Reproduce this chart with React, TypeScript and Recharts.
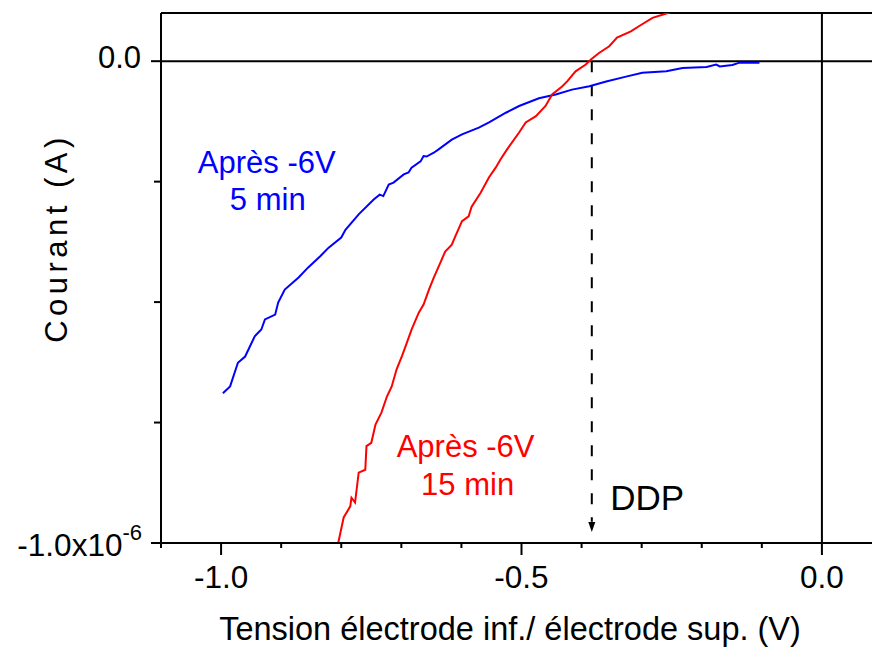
import React from 'react';
import { LineChart, Line, XAxis, YAxis, ReferenceLine, ReferenceDot } from 'recharts';

// Voltage (V) and current (A)
const blueV = [-0.997, -0.985, -0.972, -0.96, -0.944, -0.933, -0.927, -0.91, -0.905, -0.894, -0.871, -0.855, -0.835, -0.821, -0.8, -0.793, -0.771, -0.746, -0.736, -0.73, -0.721, -0.713, -0.696, -0.688, -0.683, -0.668, -0.663, -0.658, -0.646, -0.638, -0.616, -0.599, -0.571, -0.554, -0.526, -0.504, -0.471, -0.443, -0.416, -0.387, -0.359, -0.326, -0.299, -0.259, -0.232, -0.192, -0.176, -0.17, -0.149, -0.137, -0.104];
const blueI = [-0.689e-6, -0.675e-6, -0.626e-6, -0.613e-6, -0.571e-6, -0.557e-6, -0.536e-6, -0.526e-6, -0.501e-6, -0.474e-6, -0.449e-6, -0.428e-6, -0.405e-6, -0.387e-6, -0.366e-6, -0.35e-6, -0.318e-6, -0.287e-6, -0.277e-6, -0.28e-6, -0.256e-6, -0.252e-6, -0.235e-6, -0.231e-6, -0.221e-6, -0.208e-6, -0.197e-6, -0.198e-6, -0.19e-6, -0.183e-6, -0.163e-6, -0.152e-6, -0.138e-6, -0.127e-6, -0.107e-6, -0.093e-6, -0.077e-6, -0.069e-6, -0.059e-6, -0.052e-6, -0.042e-6, -0.032e-6, -0.024e-6, -0.021e-6, -0.014e-6, -0.012e-6, -0.007e-6, -0.011e-6, -0.008e-6, -0.003e-6, -0.003e-6];

const redV = [-0.81, -0.805, -0.796, -0.785, -0.783, -0.777, -0.771, -0.76, -0.758, -0.75, -0.743, -0.733, -0.724, -0.716, -0.708, -0.699, -0.693, -0.683, -0.671, -0.663, -0.654, -0.646, -0.635, -0.627, -0.616, -0.61, -0.599, -0.588, -0.583, -0.568, -0.554, -0.543, -0.535, -0.524, -0.504, -0.493, -0.476, -0.46, -0.449, -0.432, -0.424, -0.41, -0.393, -0.384, -0.371, -0.354, -0.341, -0.318, -0.304, -0.282, -0.259, -0.245];
const redI = [-1.026e-6, -1.0e-6, -0.947e-6, -0.924e-6, -0.906e-6, -0.916e-6, -0.854e-6, -0.848e-6, -0.799e-6, -0.792e-6, -0.754e-6, -0.729e-6, -0.696e-6, -0.675e-6, -0.64e-6, -0.612e-6, -0.592e-6, -0.557e-6, -0.522e-6, -0.505e-6, -0.474e-6, -0.449e-6, -0.418e-6, -0.395e-6, -0.381e-6, -0.363e-6, -0.332e-6, -0.322e-6, -0.302e-6, -0.273e-6, -0.241e-6, -0.221e-6, -0.204e-6, -0.183e-6, -0.148e-6, -0.127e-6, -0.114e-6, -0.093e-6, -0.069e-6, -0.052e-6, -0.042e-6, -0.021e-6, -0.007e-6, 0.004e-6, 0.017e-6, 0.031e-6, 0.049e-6, 0.062e-6, 0.073e-6, 0.09e-6, 0.099e-6, 0.105e-6];

const xTicks = [-1.1, -1.0, -0.9, -0.8, -0.7, -0.6, -0.5, -0.4, -0.3, -0.2, -0.1, 0.0, 0.1];
const xTickLabels: Record<string, string> = { '-1': '-1.0', '-0.5': '-0.5', '0': '0.0' };
const yTicks = [-1e-6, -0.75e-6, -0.5e-6, -0.25e-6, 0];
const ddpV = -0.383;

const blueData = blueV.map((v, k) => ({ v, i: blueI[k] }));
const redData = redV.map((v, k) => ({ v, i: redI[k] }));

const FONT = '"Liberation Sans", Arial, sans-serif';

const XTick = (props: any) => {
  const { x, y, payload } = props;
  const label = xTickLabels[String(payload.value)];
  const major = label !== undefined;
  return (
    <g>
      <line x1={x} y1={y} x2={x} y2={y + (major ? 12 : 5)} stroke="#000" strokeWidth={2} />
      {major && (
        <text x={x} y={y + 45} textAnchor="middle" fontSize={31.5} fontFamily={FONT} fill="#000">
          {label}
        </text>
      )}
    </g>
  );
};

const YTick = (props: any) => {
  const { x, y, payload } = props;
  const v = payload.value;
  const isZero = v === 0;
  const isMin = Math.abs(v + 1e-6) < 1e-12;
  const major = isZero || isMin;
  return (
    <g>
      <line x1={x - (major ? 10 : 7)} y1={y} x2={x} y2={y} stroke="#000" strokeWidth={2} />
      {isZero && (
        <text x={x - 20} y={y + 7} textAnchor="end" fontSize={31} fontFamily={FONT} fill="#000">
          0.0
        </text>
      )}
      {isMin && (
        <text x={x - 19} y={y + 13} textAnchor="end" fontSize={31.5} fontFamily={FONT} fill="#000">
          -1.0x10
          <tspan fontSize={22} dy={-16}>-6</tspan>
        </text>
      )}
    </g>
  );
};

export default function App() {
  return (
    <div style={{ position: 'absolute', left: 0, top: 0, width: 872, height: 649, overflow: 'hidden', background: '#fff' }}>
      <LineChart width={900} height={649} margin={{ top: 13, right: 18, left: 0, bottom: 0 }}>
        <XAxis
          type="number"
          dataKey="v"
          domain={[-1.1, 0.1]}
          ticks={xTicks}
          interval={0}
          allowDataOverflow
          tickSize={0}
          tickMargin={0}
          tickLine={false}
          tick={<XTick />}
          axisLine={{ stroke: '#000', strokeWidth: 2 }}
          height={106}
          label={{
            content: () => (
              <text x={510} y={640} textAnchor="middle" fontSize={32.5} fontFamily={FONT} fill="#000">
                Tension électrode inf./ électrode sup. (V)
              </text>
            ),
          }}
        />
        <YAxis
          type="number"
          dataKey="i"
          domain={[-1e-6, 0.1e-6]}
          ticks={yTicks}
          interval={0}
          allowDataOverflow
          tickSize={0}
          tickMargin={0}
          tickLine={false}
          tick={<YTick />}
          axisLine={{ stroke: '#000', strokeWidth: 2 }}
          width={161}
          label={{
            content: () => (
              <text transform="translate(67,238) rotate(-90)" textAnchor="middle" fontSize={31} letterSpacing={4.5} fontFamily={FONT} fill="#000">
                Courant (A)
              </text>
            ),
          }}
        />
        <ReferenceLine y={0.1e-6} stroke="#000" strokeWidth={2} />
        <ReferenceLine y={0} stroke="#000" strokeWidth={2} />
        <ReferenceLine x={0} stroke="#000" strokeWidth={2} />
        <ReferenceLine
          segment={[{ x: ddpV, y: 0 }, { x: ddpV, y: -0.956e-6 }]}
          stroke="#000"
          strokeWidth={2}
          strokeDasharray="11 13"
        />
        <ReferenceDot
          x={ddpV}
          y={-0.977e-6}
          r={0}
          ifOverflow="visible"
          shape={(p: any) => (
            <path d={`M${p.cx - 3.5},${p.cy - 10} L${p.cx + 3.5},${p.cy - 10} L${p.cx},${p.cy} Z`} fill="#000" />
          )}
        />
        <Line data={blueData} dataKey="i" type="linear" stroke="#0000ff" strokeWidth={2} dot={false} isAnimationActive={false} />
        <Line data={redData} dataKey="i" type="linear" stroke="#ff0000" strokeWidth={2} dot={false} isAnimationActive={false} />
        <ReferenceDot
          x={-0.924}
          y={-0.232e-6}
          r={0}
          ifOverflow="visible"
          shape={(p: any) => (
            <text x={p.cx} y={p.cy} textAnchor="middle" fontSize={31} fontFamily={FONT} fill="#0000ff">
              <tspan x={p.cx}>Après -6V</tspan>
              <tspan x={p.cx + 1} dy={37}>5 min</tspan>
            </text>
          )}
        />
        <ReferenceDot
          x={-0.593}
          y={-0.821e-6}
          r={0}
          ifOverflow="visible"
          shape={(p: any) => (
            <text x={p.cx} y={p.cy} textAnchor="middle" fontSize={31} fontFamily={FONT} fill="#ff0000">
              <tspan x={p.cx}>Après -6V</tspan>
              <tspan x={p.cx + 2} dy={38}>15 min</tspan>
            </text>
          )}
        />
        <ReferenceDot
          x={-0.349}
          y={-0.931e-6}
          r={0}
          ifOverflow="visible"
          shape={(p: any) => (
            <text x={p.cx - 2} y={p.cy} textAnchor="start" fontSize={35} fontFamily={FONT} fill="#000">
              DDP
            </text>
          )}
        />
      </LineChart>
    </div>
  );
}
